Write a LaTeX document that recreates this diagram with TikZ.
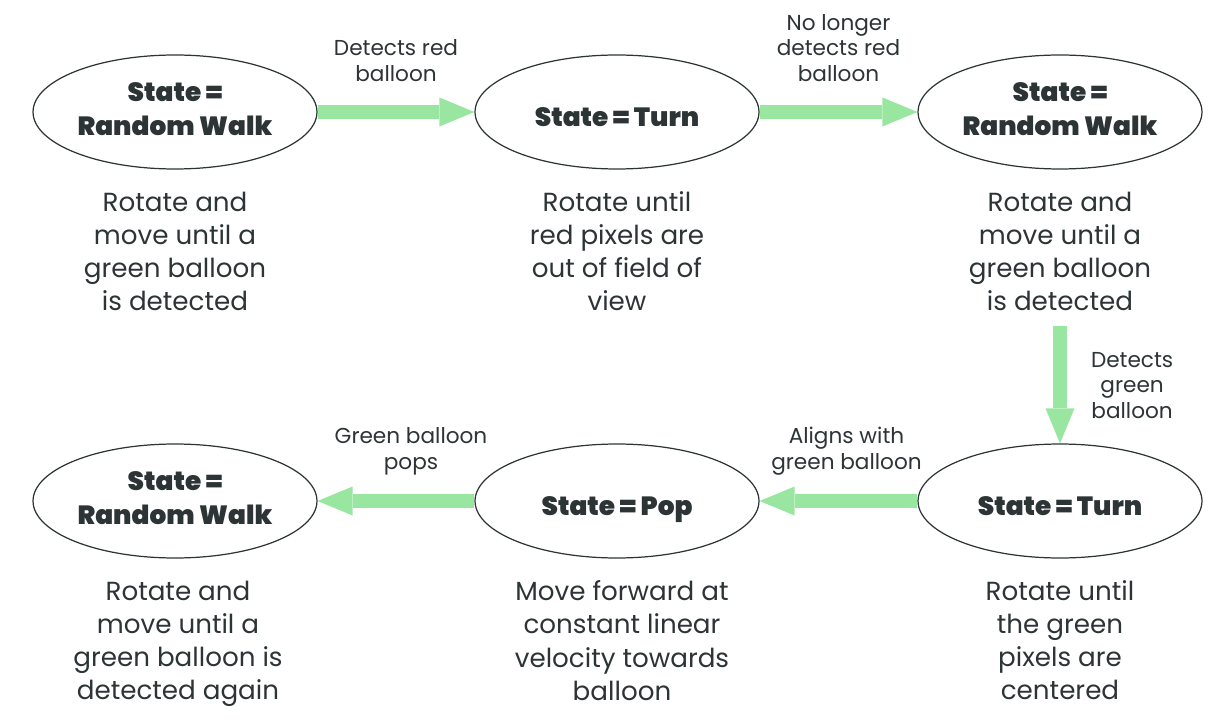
\documentclass[tikz,border=0pt]{standalone}
\usepackage{fontspec}
\setmainfont{Poppins}
\newfontfamily\statefont{Poppins Black}
\usetikzlibrary{arrows.meta, positioning, shapes.geometric}
\definecolor{txtgray}{HTML}{2D3436}
\definecolor{arrowgreen}{RGB}{152,230,160}

\begin{document}
\begin{tikzpicture}[x=0.02cm, y=-0.02cm,
    state/.style={ellipse, draw=txtgray, line width=0.7pt, minimum width=5.68cm, minimum height=2.28cm, inner sep=0pt, align=center, text=txtgray, font=\statefont\fontsize{15}{18.8}\selectfont},
    oneline/.style={text height=16.5pt, text depth=0pt},
    twoline/.style={text depth=3.4pt},
    desc/.style={align=center, inner sep=0pt, text=txtgray, font=\fontsize{14.9}{18.8}\selectfont},
    lbl/.style={align=center, inner sep=0pt, text=txtgray, text depth=0pt, font=\fontsize{12.3}{14.5}\selectfont},
    fat/.style={arrowgreen, line width=0.28cm, -{Triangle[width=0.58cm, length=0.7cm, line width=0pt]}}]
    \useasboundingbox (0,0) rectangle (1230,726);

    % states
    \node[state, twoline] (rw1) at (175,112) {State =\\Random Walk};
    \node[state, oneline] (turn1) at (617,112) {State = Turn};
    \node[state, twoline] (rw2) at (1060,112) {State =\\Random Walk};
    \node[state, oneline] (turn2) at (1060,501) {State = Turn};
    \node[state, oneline] (pop) at (617,501) {State = Pop};
    \node[state, twoline] (rw3) at (175,501) {State =\\Random Walk};

    % what each state does
    \node[desc, below=0.44cm of rw1] (rw1txt) {Rotate and\\move until a\\green balloon\\is detected};
    \node[desc, below=0.44cm of turn1] (turn1txt) {Rotate until\\red pixels are\\out of field of\\view};
    \node[desc, below=0.44cm of rw2] (rw2txt) {Rotate and\\move until a\\green balloon\\is detected};
    \node[desc, below=0.44cm of turn2] (turn2txt) {Rotate until\\the green\\pixels are\\centered};
    \node[desc, below=0.44cm of pop, xshift=0.1cm] (poptxt) {Move forward at\\constant linear\\velocity towards\\balloon};
    \node[desc, below=0.44cm of rw3, xshift=0.06cm] (rw3txt) {Rotate and\\move until a\\green balloon is\\detected again};

    % transitions
    \draw[fat] (rw1) -- (turn1) node[lbl, midway, above=0.48cm] {Detects red\\balloon};
    \draw[fat] (turn1) -- (rw2) node[lbl, midway, above=0.48cm] {No longer\\detects red\\balloon};
    \draw[fat, shorten <=0.3cm] (rw2txt) -- (turn2) node[lbl, midway, right=0.48cm, yshift=-0.16cm] {Detects\\green\\balloon};
    \draw[fat] (turn2) -- (pop) node[lbl, midway, above=0.5cm, xshift=0.16cm] {Aligns with\\green balloon};
    \draw[fat] (pop) -- (rw3) node[lbl, midway, above=0.5cm, xshift=0.3cm] {Green balloon\\pops};
\end{tikzpicture}
\end{document}
